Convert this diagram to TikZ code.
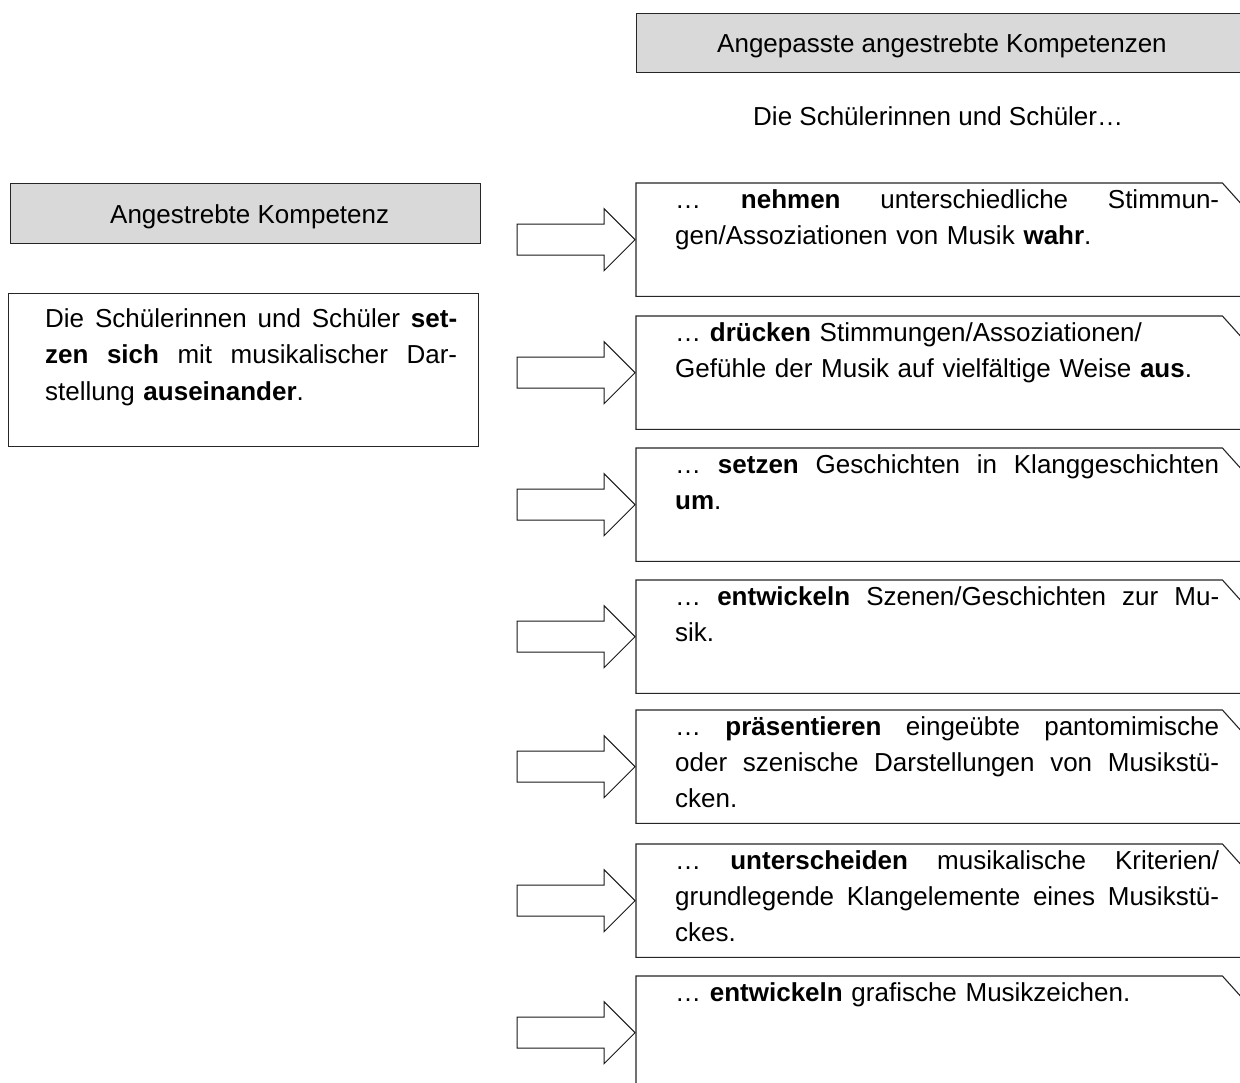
\documentclass[tikz,border=0pt]{standalone}
\usepackage{fontspec}
\setmainfont{Liberation Sans}
\usetikzlibrary{calc}
\newcommand{\JustLine}[2]{\makebox[#1][s]{\spaceskip=0pt\xspaceskip=0pt #2}}
\tikzset{
  x=1pt, y=-1pt,
  frame/.style={line width=1.1pt, draw=black!85},
  hdr/.style={frame, fill=black!15, rectangle, inner sep=0pt, anchor=north west},
  boxarea/.style={rectangle, inner sep=0pt, anchor=north west, minimum width=604pt, minimum height=113pt},
  txt/.style={inner sep=0pt, anchor=north west, text width=544pt, font=\fontsize{26}{36}\selectfont},
  ltxt/.style={inner sep=0pt, anchor=north west, text width=412pt, font=\fontsize{26}{36.5}\selectfont},
  label/.style={inner sep=0pt, anchor=base west, font=\fontsize{26}{36}\selectfont},
  blockarrow/.style={line width=1pt, draw=black!90, fill=white},
}
\begin{document}
\begin{tikzpicture}
\useasboundingbox (0,0) rectangle (1240,1082);
\clip (0,0) rectangle (1240,1082);
\fill[white] (0,0) rectangle (1240,1082);

% right header
\node[hdr, minimum width=640pt, minimum height=59pt] (rh) at (636,13) {};
\node[label] (rht) at (717,52) {Angepasste angestrebte Kompetenzen};
\node[label] (sub) at (753,125) {Die Schülerinnen und Schüler…};

% left header
\node[hdr, minimum width=470pt, minimum height=60pt] (lh) at (10,183) {};
\node[label] (lht) at (110,223) {Angestrebte Kompetenz};

% left box
\node[rectangle, inner sep=0pt, anchor=north west, minimum width=470pt, minimum height=153pt, frame] (lb) at (8,293) {};
\node[ltxt] (lbt) at (45,293) {\rule{0pt}{34pt}\JustLine{412pt}{Die Schülerinnen und Schüler \textbf{set-}}\\
\JustLine{412pt}{\textbf{zen sich} mit musikalischer Dar-}\\
stellung \textbf{auseinander}.};

% right boxes
\foreach \n/\t in {1/183, 2/316, 3/448, 4/580, 5/710, 6/844, 7/976} {
  \node[boxarea] (f\n) at (636,\t) {};
  \draw[frame] (f\n.south east) -- (f\n.south west) -- (f\n.north west)
      -- ([xshift=-18pt]f\n.north east) -- ([yshift=-20pt]f\n.north east);
  \draw[blockarrow] ([xshift=-1pt]f\n.west) -- ++(-31,-31) -- ++(0,15.5) -- ++(-87,0)
      -- ++(0,31) -- ++(87,0) -- ++(0,15.5) -- cycle;
}

\node[txt] (t1) at (675,183) {\rule{0pt}{25pt}\JustLine{544pt}{… \textbf{nehmen} unterschiedliche Stimmun-}\\
gen/Assoziationen von Musik \textbf{wahr}.};
\node[txt] (t2) at (675,316) {\rule{0pt}{25pt}… \textbf{drücken} Stimmungen/Assoziationen/\\
Gefühle der Musik auf vielfältige Weise \textbf{aus}.};
\node[txt] (t3) at (675,448) {\rule{0pt}{25pt}\JustLine{544pt}{… \textbf{setzen} Geschichten in Klanggeschichten}\\
\textbf{um}.};
\node[txt] (t4) at (675,580) {\rule{0pt}{25pt}\JustLine{544pt}{… \textbf{entwickeln} Szenen/Geschichten zur Mu-}\\
sik.};
\node[txt] (t5) at (675,710) {\rule{0pt}{25pt}\JustLine{544pt}{… \textbf{präsentieren} eingeübte pantomimische}\\
\JustLine{544pt}{oder szenische Darstellungen von Musikstü-}\\
cken.};
\node[txt] (t6) at (675,844) {\rule{0pt}{25pt}\JustLine{544pt}{… \textbf{unterscheiden} musikalische Kriterien/}\\
\JustLine{544pt}{grundlegende Klangelemente eines Musikstü-}\\
ckes.};
\node[txt] (t7) at (675,976) {\rule{0pt}{25pt}… \textbf{entwickeln} grafische Musikzeichen.};
\end{tikzpicture}
\end{document}
